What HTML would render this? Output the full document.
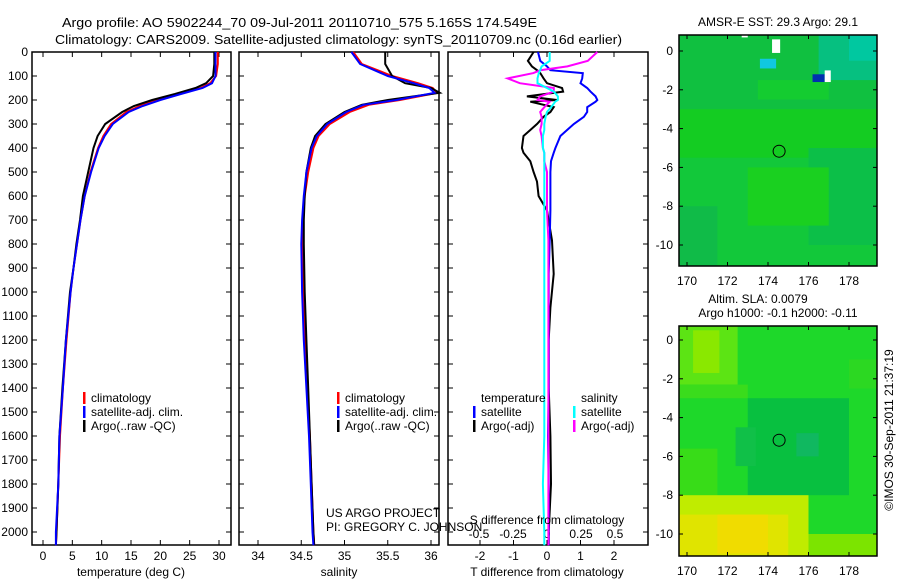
<!DOCTYPE html>
<html><head><meta charset="utf-8"><style>
body{margin:0;background:#fff;width:900px;height:580px;overflow:hidden}
svg text{font-family:"Liberation Sans",sans-serif;font-size:12px;fill:#000}
</style></head><body>
<svg id="c" width="900" height="580" viewBox="0 0 900 580">
<text x="62" y="27" style="font-size:13px" textLength="475" lengthAdjust="spacingAndGlyphs">Argo profile: AO 5902244_70 09-Jul-2011 20110710_575 5.165S 174.549E</text>
<text x="55" y="44" style="font-size:13px" textLength="567" lengthAdjust="spacingAndGlyphs">Climatology: CARS2009. Satellite-adjusted climatology: synTS_20110709.nc (0.16d earlier)</text>
<g id="g"></g>
</svg>
<script>
// ---- data ----
const tDepth=[0,50,100,130,150,175,200,225,250,300,350,400,500,600,700,800,900,1000,1200,1400,1600,1800,2000,2055];
const tClim=[29.8,29.8,29.5,28.5,26.9,23,19.6,16.5,14.2,11.6,10.3,9.4,8.1,7.1,6.4,5.8,5.2,4.7,4.0,3.4,2.9,2.6,2.3,2.2];
const tSat=[29.4,29.4,29.4,28.8,27.2,23.5,20.0,17,14.6,11.9,10.5,9.5,8.2,7.1,6.4,5.8,5.2,4.7,3.9,3.4,2.8,2.6,2.2,2.2];
const tArgo=[29.2,29.2,29.0,27.8,26.0,22.5,18.6,15.5,13.5,10.6,9.3,8.6,7.7,6.8,6.3,5.7,5.2,4.6,3.9,3.3,2.8,2.6,2.3,2.2];
const sDepth=[0,50,100,130,150,170,200,220,250,300,350,400,500,600,700,800,1000,1200,1400,1600,1800,2000,2055];
const sClim=[35.1,35.2,35.55,35.85,36.02,36.07,35.64,35.28,35.06,34.83,34.7,34.64,34.58,34.54,34.52,34.51,34.52,34.54,34.57,34.6,34.62,34.64,34.65];
const sSat=[35.08,35.18,35.5,35.8,35.98,36.04,35.6,35.22,35.02,34.8,34.68,34.62,34.56,34.53,34.51,34.5,34.51,34.53,34.56,34.59,34.61,34.63,34.64];
const sArgo=[35.47,35.47,35.55,35.7,36.0,36.1,35.5,35.2,35.0,34.78,34.66,34.61,34.56,34.54,34.53,34.53,34.54,34.56,34.58,34.6,34.62,34.64,34.65];
const dDepth=[0,37,60,76,88,110,130,150,165,185,200,207,230,250,270,300,325,350,400,420,455,500,540,600,660,785,925,1065,1200,1400,1600,1800,2000,2055];
const dTSat=[-0.27,-0.2,0.0,0.1,1.07,1.05,1.0,1.2,1.3,1.45,1.5,1.45,1.2,1.2,1.1,0.8,0.6,0.4,0.25,0.2,0.12,0.1,0.1,0.1,0.1,0.08,0.05,0.05,0.05,0.05,0.03,0.05,0.05,0.05];
const dTArgo=[-0.4,-0.57,-0.45,-0.3,-0.2,-0.1,0.0,0.45,0.48,-0.6,0.3,-0.5,0.2,0.1,-0.1,-0.3,-0.5,-0.7,-0.75,-0.7,-0.5,-0.4,-0.3,-0.25,0.0,0.15,0.2,0.1,0.05,0.05,0.1,0.12,0.05,0.05];
const dSSat=[0.02,0.02,-0.04,-0.05,-0.06,-0.07,-0.07,0.0,0.05,0.08,0.08,0.06,0.03,0.0,-0.01,-0.02,-0.02,-0.03,-0.03,-0.02,-0.02,-0.02,-0.02,-0.02,-0.02,-0.02,-0.02,-0.02,-0.02,-0.02,-0.02,-0.03,-0.02,-0.02];
const dSArgo=[0.37,0.3,0.15,-0.05,-0.1,-0.29,-0.2,0.05,0.05,-0.05,-0.07,0.02,-0.02,-0.05,-0.04,-0.04,-0.05,-0.04,-0.03,-0.02,-0.02,0.0,0.0,0.0,0.0,0.01,0.01,0.01,0.01,0.01,0.01,0.01,0.01,0.01];
const depthTicks=[0,100,200,300,400,500,600,700,800,900,1000,1100,1200,1300,1400,1500,1600,1700,1800,1900,2000];
const tTicks=[0,5,10,15,20,25,30];
const sTicks=[34,34.5,35,35.5,36];
const dTTicks=[-2,-1,0,1,2];
const dSTicks=[-0.5,-0.25,0,0.25,0.5];
const lonTicks=[170,172,174,176,178];
const latTicks=[0,-2,-4,-6,-8,-10];
const argoLon=174.549, argoLat=-5.165;
// ---- helpers ----
const NS='http://www.w3.org/2000/svg';const G=document.getElementById('g');
function mk(t,a,p){const e=document.createElementNS(NS,t);for(const k in a)e.setAttribute(k,a[k]);(p||G).appendChild(e);return e;}
const y0=52,yb=545;const yD=d=>y0+d*0.24;
function lin(v0,p0,v1,p1){return v=>p0+(v-v0)*(p1-p0)/(v1-v0);}
const xT=lin(0,43,30,219), xS=lin(34,258,36,431), xDT=lin(0,547,1,580.5), xDS=lin(0,547,0.5,615);
function frame(x0,x1,name){
 const r=mk('rect',{x:x0,y:y0,width:x1-x0,height:yb-y0,fill:'none',stroke:'#000','stroke-width':1.5});
 
 depthTicks.forEach(d=>{mk('line',{x1:x0,x2:x0+5,y1:yD(d),y2:yD(d),stroke:'#000'});mk('line',{x1:x1-5,x2:x1,y1:yD(d),y2:yD(d),stroke:'#000'});});
}
function xticks(vals,f,x0,x1,ly,fmt,name){vals.forEach(v=>{const x=f(v);mk('line',{x1:x,x2:x,y1:yb,y2:yb-5,stroke:'#000'});mk('line',{x1:x,x2:x,y1:y0,y2:y0+5,stroke:'#000'});
 const t=mk('text',{x:x,y:ly,'text-anchor':'middle'});t.textContent=fmt?fmt(v):v;});}
function series(ds,vs,f,color,name){const p=ds.map((d,i)=>f(vs[i]).toFixed(1)+','+yD(d).toFixed(1)).join(' ');
 const e=mk('polyline',{points:p,fill:'none',stroke:color,'stroke-width':2});}
function txt(x,y,s,name,extra){const t=mk('text',Object.assign({x:x,y:y},extra||{}));t.textContent=s;return t;}
function legend(x,y,items){items.forEach((it,i)=>{mk('rect',{x:x,y:y+i*14-10,width:2.5,height:12,fill:it[0]});txt(x+8,y+i*14,it[1],'legend-entry');});}
depthTicks.forEach(d=>txt(28,yD(d)+4,d,'depth-tick-label',{'text-anchor':'end'}));
frame(32,231,'temperature-panel');
xticks(tTicks,xT,32,231,560,null,'temp-tick-label');
series(tDepth,tClim,xT,'#f00','temp-climatology-line');
series(tDepth,tArgo,xT,'#000','temp-argo-line');
series(tDepth,tSat,xT,'#00f','temp-satellite-line');
txt(131,576,'temperature (deg C)','temp-axis-title',{'text-anchor':'middle'});
legend(83,402,[['#f00','climatology'],['#00f','satellite-adj. clim.'],['#000','Argo(..raw -QC)']]);
frame(239,439,'salinity-panel');
xticks(sTicks,xS,239,439,560,null,'sal-tick-label');
series(sDepth,sClim,xS,'#f00','sal-climatology-line');
series(sDepth,sArgo,xS,'#000','sal-argo-line');
series(sDepth,sSat,xS,'#00f','sal-satellite-line');
txt(339,576,'salinity','sal-axis-title',{'text-anchor':'middle'});
legend(337,402,[['#f00','climatology'],['#00f','satellite-adj. clim.'],['#000','Argo(..raw -QC)']]);
txt(326,517,'US ARGO PROJECT','project-label');
txt(326,531,'PI: GREGORY C. JOHNSON','pi-label');
frame(448,648,'difference-panel');
xticks(dTTicks,xDT,448,648,560,null,'tdiff-tick-label');
dSTicks.forEach(v=>{const x=xDS(v);txt(x,538,v,'sdiff-tick-label',{'text-anchor':'middle'});});
series(dDepth,dTArgo,xDT,'#000','tdiff-argo-line');
series(dDepth,dTSat,xDT,'#00f','tdiff-satellite-line');
series(dDepth,dSArgo,xDS,'#f0f','sdiff-argo-line');
series(dDepth,dSSat,xDS,'#0ff','sdiff-satellite-line');
txt(547,576,'T difference from climatology','tdiff-axis-title',{'text-anchor':'middle'});
txt(547,524,'S difference from climatology','sdiff-axis-title',{'text-anchor':'middle'});
txt(481,402,'temperature','legend-temperature-header');txt(581,402,'salinity','legend-salinity-header');
legend(473,416,[['#00f','satellite'],['#000','Argo(-adj)']]);
legend(573,416,[['#0ff','satellite'],['#f0f','Argo(-adj)']]);
// maps
const xL=lin(170,687,178,849);
function map(top,bot,lat0y,name,base,patches){
 const yL=lin(0,lat0y,-10,lat0y+194);
 const defs=mk('defs',{});
 const clip=mk('clipPath',{id:name+'c'},defs);mk('rect',{x:679,y:top,width:198,height:bot-top},clip);
 const g=mk('g',{'clip-path':'url(#'+name+'c)'});
 mk('rect',{x:679,y:top,width:198,height:bot-top,fill:base},g);
 patches.forEach(p=>mk('rect',{x:xL(p[0]),y:yL(p[1]),width:xL(p[2])-xL(p[0]),height:yL(p[3])-yL(p[1]),fill:p[4]},g));
 mk('rect',{x:679,y:top,width:198,height:bot-top,fill:'none',stroke:'#000','stroke-width':1.5});
 lonTicks.forEach(v=>{const x=xL(v);mk('line',{x1:x,x2:x,y1:bot,y2:bot-4,stroke:'#000'});mk('line',{x1:x,x2:x,y1:top,y2:top+4,stroke:'#000'});txt(x,bot+19,v,'lon-tick-label',{'text-anchor':'middle'});});
 latTicks.forEach(v=>{const y=yL(v);mk('line',{x1:679,x2:683,y1:y,y2:y,stroke:'#000'});mk('line',{x1:873,x2:877,y1:y,y2:y,stroke:'#000'});txt(673,y+4,v,'lat-tick-label',{'text-anchor':'end'});});
 const c=mk('circle',{cx:xL(argoLon),cy:yL(argoLat),r:6,fill:'none',stroke:'#000','stroke-width':1});
}
map(35,266,51,'sst-map','#14cc22',[
 [169,1,180,-3,'#10c040'],[176.5,1,180,-1.5,'#06c080'],[178,1,180,-0.5,'#00c8a0'],[173.5,-1.5,177,-2.5,'#14cc30'],
 [169,-5.5,180,-11.5,'#12c83a'],[169,-8,171.5,-11.5,'#10bb48'],[176,-5,180,-10,'#0cbf48'],[173,-6,177,-9,'#1ad020'],
 [173.6,-0.4,174.4,-0.9,'#10c8e0'],[176.2,-1.2,176.8,-1.6,'#0030b0'],[174.2,0.6,174.6,-0.1,'#fff'],[176.8,-1,177.1,-1.6,'#fff'],[179.4,-1.8,180,-2.1,'#fff'],[172.7,0.8,173,0.7,'#fff']]);
map(326,556,340,'sla-map','#1ed82a',[[169,1,172.5,-2.3,'#5ce414'],[170.3,0.5,171.6,-1.7,'#8ae800'],[169,-2.3,173,-3,'#3adc1c'],[173,-3,178,-8,'#08c040'],[175.4,-4.8,176.5,-6,'#10b860'],[172.4,-4.5,173.4,-6.5,'#10c048'],[169,-5.6,171.5,-8.5,'#38dc18'],[169,-8,176,-11.5,'#c0ec00'],[169,-9,175,-11.5,'#e0e400'],[171.5,-9,174,-11,'#f0dc00'],[176,-10,180,-11.5,'#7ce400'],[178,-1,180,-2.5,'#2cd822']]);
txt(778,26,'AMSR-E SST: 29.3 Argo: 29.1','sst-map-title',{'text-anchor':'middle'});
txt(758,303,'Altim. SLA: 0.0079','sla-map-title',{'text-anchor':'middle'});
txt(778,317,'Argo h1000: -0.1 h2000: -0.11','sla-map-subtitle',{'text-anchor':'middle'});
txt(893,430,'©IMOS 30-Sep-2011 21:37:19','timestamp-label',{'text-anchor':'middle',transform:'rotate(-90 893 430)'});
</script>
</body></html>
